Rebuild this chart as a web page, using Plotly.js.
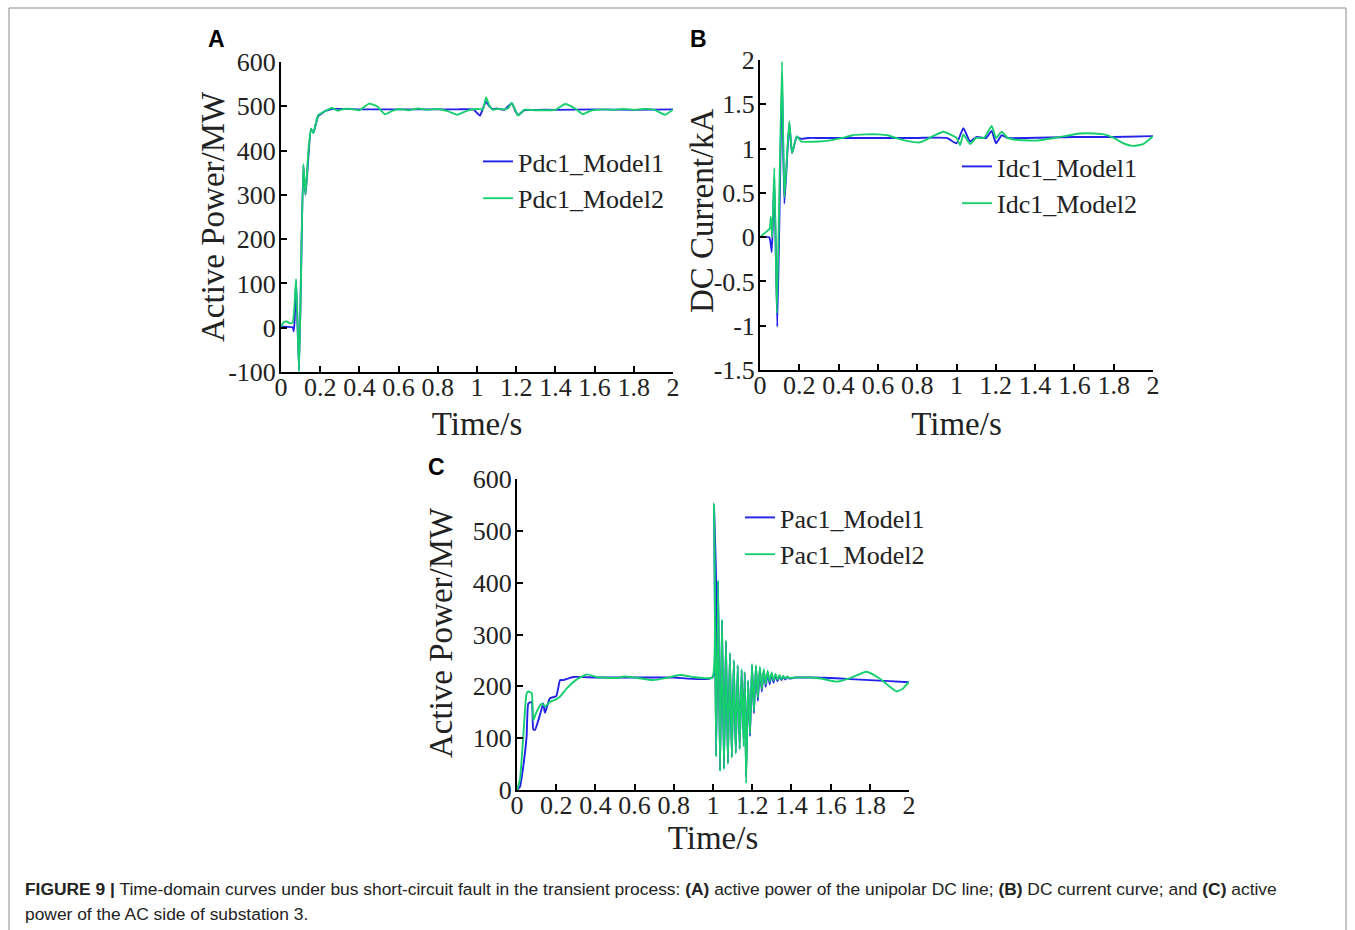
<!DOCTYPE html>
<html>
<head>
<meta charset="utf-8">
<script src="https://cdn.plot.ly/plotly-3.0.1.min.js"></script>
<style>html,body{margin:0;padding:0;background:#fff;}#chart{width:1355px;height:930px;}</style>
</head>
<body>
<div id="chart"></div>
<script>
// ---------- Panel A: active power of the unipolar DC line ----------
const tA1 = [0, 0.03, 0.06, 0.065, 0.07, 0.077, 0.092, 0.114, 0.125, 0.153, 0.165, 0.19, 0.23, 0.26, 0.3, 0.4, 0.5, 0.6, 0.7, 0.8, 0.9, 0.98, 1.015, 1.03, 1.046, 1.065, 1.08, 1.1, 1.14, 1.177, 1.195, 1.21, 1.24, 1.3, 1.4, 1.6, 1.8, 2.0];
const pA1 = [2, 2, 1, -8, 20, 105, -95, 365, 300, 448, 440, 478, 490, 494, 494, 493, 493, 493, 493, 493, 493, 493, 479, 495, 510, 499, 493, 495, 492, 507, 490, 480, 491, 492, 492, 493, 492, 493];
const tA2 = [0, 0.015, 0.03, 0.045, 0.06, 0.077, 0.092, 0.114, 0.125, 0.14, 0.153, 0.165, 0.19, 0.23, 0.26, 0.29, 0.32, 0.36, 0.4, 0.45, 0.49, 0.53, 0.57, 0.6, 0.65, 0.7, 0.75, 0.8, 0.85, 0.9, 0.95, 1.0, 1.03, 1.046, 1.065, 1.08, 1.1, 1.14, 1.16, 1.177, 1.195, 1.21, 1.24, 1.3, 1.4, 1.45, 1.5, 1.54, 1.58, 1.65, 1.7, 1.75, 1.8, 1.85, 1.9, 1.96, 2.0];
const pA2 = [2, 13, 14, 10, 12, 110, -100, 370, 300, 400, 450, 440, 480, 490, 496, 490, 494, 494, 491, 506, 500, 482, 490, 494, 491, 495, 492, 494, 489, 481, 490, 494, 493, 520, 500, 492, 494, 493, 496, 508, 492, 479, 492, 491, 492, 505, 495, 482, 490, 493, 492, 494, 492, 494, 493, 481, 493];

// ---------- Panel B: DC current ----------
const tB1 = [0, 0.047, 0.053, 0.06, 0.073, 0.088, 0.112, 0.124, 0.149, 0.163, 0.187, 0.21, 0.25, 0.3, 0.4, 0.6, 0.8, 0.95, 1.0, 1.035, 1.069, 1.1, 1.15, 1.179, 1.201, 1.23, 1.26, 1.35, 1.6, 1.8, 2.0];
const iB1 = [0, 0, -0.05, -0.17, 0.65, -1.01, 1.78, 0.38, 1.28, 0.95, 1.13, 1.11, 1.12, 1.12, 1.12, 1.12, 1.12, 1.12, 1.06, 1.23, 1.08, 1.13, 1.12, 1.2, 1.06, 1.15, 1.12, 1.12, 1.13, 1.13, 1.14];
const tB2 = [0, 0.042, 0.05, 0.055, 0.062, 0.073, 0.086, 0.112, 0.124, 0.149, 0.163, 0.187, 0.21, 0.3, 0.35, 0.42, 0.47, 0.54, 0.6, 0.65, 0.69, 0.74, 0.814, 0.88, 0.933, 1.0, 1.018, 1.035, 1.069, 1.1, 1.14, 1.179, 1.201, 1.23, 1.26, 1.3, 1.4, 1.5, 1.628, 1.7, 1.75, 1.8, 1.85, 1.9, 1.95, 2.0];
const iB2 = [0, 0.08, 0.1, 0.23, 0.0, 0.78, -0.86, 1.98, 0.45, 1.31, 0.95, 1.14, 1.08, 1.08, 1.09, 1.12, 1.15, 1.16, 1.16, 1.15, 1.12, 1.09, 1.07, 1.14, 1.19, 1.12, 1.04, 1.16, 1.05, 1.12, 1.12, 1.255, 1.12, 1.19, 1.12, 1.1, 1.09, 1.12, 1.17, 1.17, 1.16, 1.12, 1.06, 1.03, 1.05, 1.14];

// ---------- Panel C: active power of the AC side of substation 3 ----------
const tC1 = [0, 0.015, 0.03, 0.049, 0.058, 0.075, 0.083, 0.092, 0.117, 0.134, 0.14, 0.143, 0.168, 0.2, 0.22, 0.236, 0.287, 0.4, 0.6, 0.8, 0.997,
  1.005, 1.016, 1.026, 1.036, 1.046, 1.056, 1.066, 1.076, 1.086, 1.096, 1.106, 1.116, 1.126, 1.136, 1.146, 1.156, 1.162, 1.169, 1.179, 1.189, 1.199, 1.209, 1.219, 1.229, 1.239, 1.249, 1.259, 1.269, 1.279, 1.289, 1.299, 1.309, 1.319, 1.329, 1.339, 1.349, 1.359, 1.369, 1.379, 1.39, 1.42,
  1.5, 1.6, 1.7, 1.8, 1.9, 2.0];
const pC1 = [0, 6, 40, 103, 167, 170, 117, 116, 145, 167, 153, 149, 177, 181, 212, 212, 218, 217, 217, 217, 217,
  550, 66, 402, 38, 327, 42, 287, 52, 263, 64, 249, 72, 239, 80, 231, 100, 226, 25, 210, 104, 240, 148, 238, 172, 235, 190, 230, 199, 227, 204, 224, 207, 222, 210, 220, 212, 219, 213, 218, 215, 217,
  217, 216, 214, 212, 210, 208];
const tC2 = [0, 0.015, 0.032, 0.049, 0.058, 0.075, 0.083, 0.1, 0.126, 0.143, 0.168, 0.194, 0.219, 0.254, 0.3, 0.356, 0.406, 0.507, 0.55, 0.6, 0.697, 0.76, 0.83, 0.9, 0.95, 0.997,
  1.005, 1.016, 1.026, 1.036, 1.046, 1.056, 1.066, 1.076, 1.086, 1.096, 1.106, 1.116, 1.126, 1.136, 1.146, 1.156, 1.162, 1.169, 1.179, 1.189, 1.199, 1.209, 1.219, 1.229, 1.239, 1.249, 1.259, 1.269, 1.279, 1.289, 1.299, 1.309, 1.319, 1.329, 1.339, 1.349, 1.359, 1.369, 1.379, 1.39, 1.42,
  1.5, 1.55, 1.63, 1.7, 1.784, 1.85, 1.937, 1.97, 2.0];
const pC2 = [0, 20, 103, 186, 190, 187, 135, 151, 167, 161, 170, 174, 180, 196, 212, 223, 218, 216, 219, 217, 212, 216, 222, 218, 216, 217,
  553, 64, 405, 36, 329, 40, 289, 50, 265, 62, 251, 70, 241, 78, 233, 84, 228, 13, 212, 108, 243, 152, 241, 178, 238, 195, 233, 204, 230, 209, 227, 211, 224, 213, 222, 214, 220, 215, 219, 216, 217,
  217, 215, 209, 216, 228, 215, 190, 196, 209];

// ---------- tick labels ----------
const xTicks = [0, 0.2, 0.4, 0.6, 0.8, 1, 1.2, 1.4, 1.6, 1.8, 2];
const yTicksA = [-100, 0, 100, 200, 300, 400, 500, 600];
const yTickTextA = ['-100', '0', '100', '200', '300', '400', '500', '600'];
const yTicksB = [-1.5, -1, -0.5, 0, 0.5, 1, 1.5, 2];
const yTickTextB = ['-1.5', '-1', '-0.5', '0', '0.5', '1', '1.5', '2'];
const yTicksC = [0, 100, 200, 300, 400, 500, 600];

const W = 1355, H = 930;
const px = v => v / W;
const py = v => 1 - v / H;

const BLUE = '#2222e8';
const GREEN = '#17cf6f';
const SERIF = 'Liberation Serif, Times New Roman, serif';
const SANS = 'Liberation Sans, Arial, sans-serif';

function line(x, y, name, color, xa, ya, lg) {
  return {x: x, y: y, name: name, type: 'scatter', mode: 'lines',
    line: {color: color, width: 1.9, shape: 'spline', smoothing: 0.45}, xaxis: xa, yaxis: ya, legend: lg};
}

const data = [
  line(tA1, pA1, 'Pdc1_Model1', BLUE, 'x', 'y', 'legend'),
  line(tA2, pA2, 'Pdc1_Model2', GREEN, 'x', 'y', 'legend'),
  line(tB1, iB1, 'Idc1_Model1', BLUE, 'x2', 'y2', 'legend2'),
  line(tB2, iB2, 'Idc1_Model2', GREEN, 'x2', 'y2', 'legend2'),
  line(tC1, pC1, 'Pac1_Model1', BLUE, 'x3', 'y3', 'legend3'),
  line(tC2, pC2, 'Pac1_Model2', GREEN, 'x3', 'y3', 'legend3')
];

function xaxis(dom, anchor, standoff) {
  return {domain: dom, anchor: anchor, range: [0, 2], tickvals: xTicks,
    showline: true, linecolor: '#000', linewidth: 2, mirror: false,
    ticks: 'inside', ticklen: 6, tickwidth: 1.5, tickcolor: '#000',
    ticklabelstandoff: -9,
    showgrid: false, zeroline: false,
    tickfont: {family: SERIF, size: 26, color: '#222'},
    title: {text: 'Time/s', font: {family: SERIF, size: 33, color: '#222'}, standoff: standoff}};
}
function yaxis(dom, anchor, range, vals, text) {
  const o = {domain: dom, anchor: anchor, range: range, tickvals: vals,
    showline: true, linecolor: '#000', linewidth: 2, mirror: false,
    ticks: 'inside', ticklen: 6, tickwidth: 1.5, tickcolor: '#000',
    ticklabelstandoff: -2,
    showgrid: false, zeroline: false,
    tickfont: {family: SERIF, size: 26, color: '#222'}};
  if (text) o.ticktext = text;
  return o;
}
function legend(x, y) {
  return {x: x, y: y, xanchor: 'left', yanchor: 'top', bgcolor: 'rgba(0,0,0,0)',
    borderwidth: 0, font: {family: SERIF, size: 26, color: '#222'}, tracegroupgap: 0};
}
function label(text, x, y) {
  return {text: text, x: px(x), y: py(y), xref: 'paper', yref: 'paper', xanchor: 'center', yanchor: 'middle',
    showarrow: false, font: {family: SANS, size: 23, color: '#000'}};
}
function ytitle(text, x, y) {
  return {text: text, x: px(x), y: py(y), xref: 'paper', yref: 'paper', xanchor: 'center', yanchor: 'middle',
    textangle: -90, showarrow: false, font: {family: SERIF, size: 33, color: '#222'}};
}

const layout = {
  width: W, height: H, margin: {l: 0, r: 0, t: 0, b: 0},
  paper_bgcolor: '#fff', plot_bgcolor: '#fff', showlegend: true,
  xaxis: xaxis([px(281), px(673)], 'y', 11),
  yaxis: yaxis([py(372), py(62)], 'x', [-100, 600], yTicksA, yTickTextA),
  xaxis2: xaxis([px(760), px(1153)], 'y2', 13),
  yaxis2: yaxis([py(370), py(60)], 'x2', [-1.5, 2], yTicksB, yTickTextB),
  xaxis3: xaxis([px(517), px(909)], 'y3', 1),
  yaxis3: yaxis([py(790), py(479)], 'x3', [0, 600], yTicksC, null),
  legend: legend(px(478), py(138)),
  legend2: legend(px(957), py(143)),
  legend3: legend(px(740), py(494)),
  shapes: [
    {type: 'rect', xref: 'paper', yref: 'paper', x0: px(9), x1: px(1346), y0: -0.02, y1: py(8),
     line: {color: '#8a8a8a', width: 1}, fillcolor: 'rgba(0,0,0,0)'}
  ],
  annotations: [
    label('<b>A</b>', 216, 39),
    label('<b>B</b>', 698, 39),
    label('<b>C</b>', 436, 467),
    ytitle('Active Power/MW', 213, 217),
    ytitle('DC Current/kA', 702, 211),
    ytitle('Active Power/MW', 441, 632),
    {text: '<b>FIGURE 9 |</b> Time-domain curves under bus short-circuit fault in the transient process: <b>(A)</b> active power of the unipolar DC line; <b>(B)</b> DC current curve; and <b>(C)</b> active',
     x: px(23), y: py(889), xref: 'paper', yref: 'paper', xanchor: 'left', yanchor: 'middle', showarrow: false,
     font: {family: SANS, size: 17.4, color: '#222'}},
    {text: 'power of the AC side of substation 3.',
     x: px(23), y: py(914), xref: 'paper', yref: 'paper', xanchor: 'left', yanchor: 'middle', showarrow: false,
     font: {family: SANS, size: 17.4, color: '#222'}}
  ]
};

Plotly.newPlot('chart', data, layout, {displayModeBar: false, responsive: false});
</script>
</body>
</html>
